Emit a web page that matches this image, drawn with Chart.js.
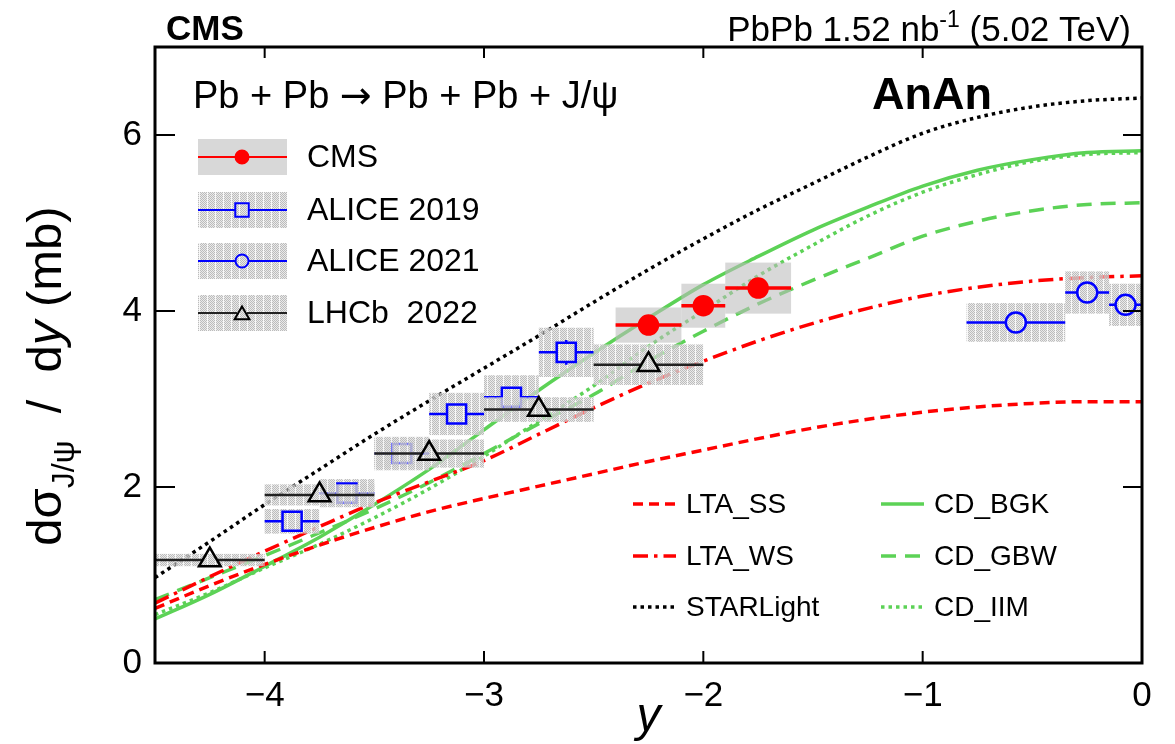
<!DOCTYPE html>
<html>
<head>
<meta charset="utf-8">
<title>Coherent J/psi photoproduction in PbPb UPC</title>
<script src="https://cdn.jsdelivr.net/npm/chart.js@4.4.1/dist/chart.umd.min.js"></script>
<style>
  html, body { margin: 0; padding: 0; background: #ffffff; }
  #box { position: relative; width: 1175px; height: 744px; }
  canvas { display: block; }
</style>
</head>
<body>
<div id="box"><canvas id="chart" width="1175" height="744"></canvas></div>
<script>
// Rapidity grid of the model predictions
const modelRap  = [-4.5, -4.25, -4.0, -3.75, -3.5, -3.25, -3.0, -2.75, -2.5, -2.25, -2.0, -1.75, -1.5, -1.25, -1.0, -0.75, -0.5, -0.25, 0.0];
const ltaSS     = [0.62, 0.88, 1.12, 1.34, 1.54, 1.72, 1.87, 2.01, 2.15, 2.29, 2.42, 2.55, 2.67, 2.77, 2.85, 2.91, 2.95, 2.97, 2.97];
const ltaWS     = [0.68, 0.98, 1.27, 1.55, 1.82, 2.06, 2.30, 2.60, 2.90, 3.18, 3.43, 3.66, 3.86, 4.03, 4.17, 4.27, 4.34, 4.38, 4.40];
const starlight = [0.97, 1.38, 1.80, 2.20, 2.60, 2.98, 3.35, 3.72, 4.10, 4.47, 4.82, 5.15, 5.45, 5.75, 6.02, 6.20, 6.32, 6.39, 6.42];
const cdBGK     = [0.50, 0.78, 1.10, 1.43, 1.80, 2.20, 2.65, 3.10, 3.52, 3.92, 4.30, 4.62, 4.92, 5.18, 5.42, 5.60, 5.72, 5.80, 5.82];
const cdGBW     = [0.72, 0.97, 1.22, 1.48, 1.75, 2.05, 2.38, 2.72, 3.05, 3.43, 3.77, 4.08, 4.35, 4.60, 4.85, 5.02, 5.14, 5.21, 5.23];
const cdIIM     = [0.55, 0.80, 1.08, 1.35, 1.65, 1.98, 2.35, 2.75, 3.15, 3.60, 4.00, 4.40, 4.75, 5.08, 5.35, 5.55, 5.70, 5.78, 5.80];

// CMS
const cmsRap   = [-2.25, -2.0, -1.75];
const cmsLo    = [-2.4, -2.1, -1.9];
const cmsHi    = [-2.1, -1.9, -1.6];
const cmsXsec  = [3.84, 4.06, 4.26];
const cmsStat  = [0.05, 0.05, 0.06];
const cmsSyst  = [0.20, 0.25, 0.29];

// ALICE 2019
const alice19Rap  = [-3.875, -3.625, -3.375, -3.125, -2.875, -2.625];
const alice19Lo   = [-4.0, -3.75, -3.5, -3.25, -3.0, -2.75];
const alice19Hi   = [-3.75, -3.5, -3.25, -3.0, -2.75, -2.5];
const alice19Xsec = [1.61, 1.93, 2.38, 2.83, 3.02, 3.53];
const alice19Stat = [0.03, 0.03, 0.03, 0.04, 0.07, 0.14];
const alice19Syst = [0.14, 0.16, 0.19, 0.24, 0.25, 0.28];

// ALICE 2021
const alice21Rap  = [-0.575, -0.25, -0.075];
const alice21Lo   = [-0.8, -0.35, -0.15];
const alice21Hi   = [-0.35, -0.15, 0.0];
const alice21Xsec = [3.87, 4.21, 4.07];
const alice21Stat = [0.08, 0.08, 0.08];
const alice21Syst = [0.22, 0.24, 0.24];

// LHCb 2022
const lhcbRap  = [-4.25, -3.75, -3.25, -2.75, -2.25];
const lhcbLo   = [-4.5, -4.0, -3.5, -3.0, -2.5];
const lhcbHi   = [-4.0, -3.5, -3.0, -2.5, -2.0];
const lhcbXsec = [1.17, 1.91, 2.38, 2.88, 3.39];
const lhcbStat = [0.03, 0.03, 0.03, 0.04, 0.07];
const lhcbSyst = [0.07, 0.12, 0.16, 0.14, 0.23];

const xTickValues = [-4, -3, -2, -1, 0];
const yTickValues = [0, 2, 4, 6];

const FONT = '"Liberation Sans", Arial, Helvetica, sans-serif';
const RED = '#ff0000', BLUE = '#0000ff', BLACK = '#000000', GREEN = 'rgb(92,210,86)';

let hatchPattern = null;
function getHatch(ctx) {
  if (hatchPattern) return hatchPattern;
  const c = document.createElement('canvas');
  c.width = 8; c.height = 8;
  const g = c.getContext('2d');
  for (let j = 0; j < 8; j++) {
    for (let i = 0; i < 8; i++) {
      if (i === 7) g.fillStyle = 'rgba(242,242,242,0.5)';
      else if ((i + j) % 2 === 0) g.fillStyle = 'rgb(188,188,188)';
      else g.fillStyle = 'rgba(225,225,225,0.7)';
      g.fillRect(i, j, 1, 1);
    }
  }
  hatchPattern = ctx.createPattern(c, 'repeat');
  return hatchPattern;
}

// Measurement tables, keyed by dataset label
const measurements = {
  'CMS':        { rap: cmsRap, lo: cmsLo, hi: cmsHi, val: cmsXsec, stat: cmsStat, syst: cmsSyst, solid: true, color: RED, lw: 3.5, gapX: 0, gapT: 0, gapB: 0 },
  'ALICE 2019': { rap: alice19Rap, lo: alice19Lo, hi: alice19Hi, val: alice19Xsec, stat: alice19Stat, syst: alice19Syst, solid: false, color: BLUE, lw: 2.5, gapX: 9.5, gapT: 9.5, gapB: 9.5 },
  'ALICE 2021': { rap: alice21Rap, lo: alice21Lo, hi: alice21Hi, val: alice21Xsec, stat: alice21Stat, syst: alice21Syst, solid: false, color: BLUE, lw: 2.5, gapX: 10, gapT: 10, gapB: 10 },
  'LHCb  2022': { rap: lhcbRap, lo: lhcbLo, hi: lhcbHi, val: lhcbXsec, stat: lhcbStat, syst: lhcbSyst, solid: false, color: '#222222', lw: 2.5, gapX: 7, gapT: 12, gapB: 6 }
};

function modelSet(label, values, color, dash) {
  return {
    type: 'line', label,
    data: modelRap.map((r, i) => ({ x: r, y: values[i] })),
    borderColor: color, borderWidth: 3.5, borderDash: dash, borderCapStyle: 'butt',
    pointRadius: 0, fill: false, cubicInterpolationMode: 'monotone', order: 10
  };
}

function pointSet(label, rap, vals, style, radius, fillColor, strokeColor, order) {
  return {
    type: 'scatter', label,
    data: rap.map((r, i) => ({ x: r, y: vals[i] })),
    pointStyle: style, pointRadius: radius, pointHoverRadius: radius,
    pointBackgroundColor: fillColor, pointBorderColor: strokeColor,
    borderColor: strokeColor, pointBorderWidth: 2.5, order
  };
}

const datasets = [
  modelSet('LTA_SS', ltaSS, RED, [10, 6]),
  modelSet('LTA_WS', ltaWS, RED, [15, 6, 3.5, 6]),
  modelSet('STARLight', starlight, BLACK, [3.5, 4]),
  modelSet('CD_BGK', cdBGK, GREEN, []),
  modelSet('CD_GBW', cdGBW, GREEN, [15, 9]),
  modelSet('CD_IIM', cdIIM, GREEN, [3.5, 4]),
  pointSet('ALICE 2019', alice19Rap, alice19Xsec, 'rect', 13.5, 'rgba(0,0,0,0)', BLUE, 4),
  pointSet('ALICE 2021', alice21Rap, alice21Xsec, 'circle', 10, 'rgba(0,0,0,0)', BLUE, 3),
  pointSet('LHCb  2022', lhcbRap, lhcbXsec, 'triangle', 12.5, 'rgba(0,0,0,0)', BLACK, 2),
  pointSet('CMS', cmsRap, cmsXsec, 'circle', 9.5, RED, RED, 1)
];

// Systematic boxes and error bars, drawn just before each measurement's markers
const measurementPlugin = {
  id: 'measurementBoxes',
  beforeDatasetDraw(chart, args) {
    const ds = chart.data.datasets[args.index];
    const m = measurements[ds.label];
    if (!m) return;
    const { ctx, chartArea: a, scales: { x, y } } = chart;
    ctx.save();
    ctx.beginPath();
    ctx.rect(a.left, a.top, a.right - a.left, a.bottom - a.top);
    ctx.clip();
    ctx.fillStyle = m.solid ? 'rgba(188,188,188,0.58)' : getHatch(ctx);
    m.val.forEach((v, i) => {
      const x0 = x.getPixelForValue(m.lo[i]), x1 = x.getPixelForValue(m.hi[i]);
      const y0 = y.getPixelForValue(v + m.syst[i]), y1 = y.getPixelForValue(v - m.syst[i]);
      ctx.fillRect(x0, y0, x1 - x0, y1 - y0);
    });
    ctx.strokeStyle = m.color;
    ctx.lineWidth = m.lw;
    ctx.lineCap = 'butt';
    m.val.forEach((v, i) => {
      const cx = x.getPixelForValue(m.rap[i]), cy = y.getPixelForValue(v);
      const x0 = x.getPixelForValue(m.lo[i]), x1 = x.getPixelForValue(m.hi[i]);
      ctx.beginPath();
      ctx.moveTo(x0, cy); ctx.lineTo(cx - m.gapX, cy);
      ctx.moveTo(cx + m.gapX, cy); ctx.lineTo(x1, cy);
      const yt = y.getPixelForValue(v + m.stat[i]), yb = y.getPixelForValue(v - m.stat[i]);
      if (cy - yt > m.gapT + 1) { ctx.moveTo(cx, cy - m.gapT); ctx.lineTo(cx, yt); }
      if (yb - cy > m.gapB + 1) { ctx.moveTo(cx, cy + m.gapB); ctx.lineTo(cx, yb); }
      ctx.stroke();
    });
    ctx.restore();
  }
};

function drawRich(ctx, parts, x, y, align) {
  let total = 0;
  parts.forEach(p => { ctx.font = p.f; p.w = ctx.measureText(p.t).width; total += p.w; });
  let cx = align === 'right' ? x - total : (align === 'center' ? x - total / 2 : x);
  parts.forEach(p => { ctx.font = p.f; ctx.fillText(p.t, cx, y + (p.dy || 0)); cx += p.w; });
}

// Frame, inward ticks, titles and legends
const decorPlugin = {
  id: 'decor',
  afterDraw(chart) {
    const { ctx, chartArea: a, scales: { x, y } } = chart;
    const ds = chart.data.datasets;
    const byLabel = l => ds.find(d => d.label === l);
    ctx.save();

    // ticks
    ctx.strokeStyle = '#000';
    ctx.lineWidth = 2;
    ctx.beginPath();
    xTickValues.forEach(v => {
      const px = x.getPixelForValue(v);
      if (px <= a.left + 2 || px >= a.right - 2) return;
      ctx.moveTo(px, a.bottom); ctx.lineTo(px, a.bottom - 12);
      ctx.moveTo(px, a.top); ctx.lineTo(px, a.top + 11);
    });
    yTickValues.forEach(v => {
      const py = y.getPixelForValue(v);
      if (py >= a.bottom - 2 || py <= a.top + 2) return;
      ctx.moveTo(a.left, py); ctx.lineTo(a.left + 20, py);
      ctx.moveTo(a.right, py); ctx.lineTo(a.right - 19, py);
    });
    ctx.stroke();

    // frame
    ctx.lineWidth = 3;
    ctx.strokeRect(a.left, a.top, a.right - a.left, a.bottom - a.top);

    ctx.fillStyle = '#000';
    ctx.textBaseline = 'alphabetic';

    // header
    ctx.textAlign = 'left';
    ctx.font = `bold 35px ${FONT}`;
    ctx.fillText('CMS', 166, 40);
    drawRich(ctx, [
      { t: 'PbPb 1.52 nb', f: `35px ${FONT}` },
      { t: '-1', f: `23px ${FONT}`, dy: -14 },
      { t: ' (5.02 TeV)', f: `35px ${FONT}` }
    ], 1131, 41, 'right');

    // x axis title
    ctx.textAlign = 'center';
    ctx.font = `italic 48px ${FONT}`;
    ctx.fillText('y', (a.left + a.right) / 2, 731);

    // y axis title (rotated)
    ctx.save();
    ctx.translate(61, 376);
    ctx.rotate(-Math.PI / 2);
    ctx.textAlign = 'left';
    drawRich(ctx, [
      { t: 'd\u03c3', f: `49px ${FONT}` },
      { t: 'J/\u03c8', f: `32px ${FONT}`, dy: 13 },
      { t: '  /  d', f: `49px ${FONT}` },
      { t: 'y', f: `italic 49px ${FONT}` },
      { t: ' (mb)', f: `49px ${FONT}` }
    ], 0, 0, 'center');
    ctx.restore();

    // process and tune labels
    ctx.textAlign = 'left';
    drawRich(ctx, [
      { t: 'Pb + Pb ', f: `38px ${FONT}` },
      { t: '\u2192', f: `38px "DejaVu Sans", ${FONT}`, dy: 0 },
      { t: ' Pb + Pb + J/\u03c8', f: `38px ${FONT}` }
    ], 193, 108, 'left');
    ctx.font = `bold 45px ${FONT}`;
    ctx.fillText('AnAn', 872, 109);

    // measurement legend
    const entries = ['CMS', 'ALICE 2019', 'ALICE 2021', 'LHCb  2022'];
    const rowY = [157, 210, 261, 313];
    entries.forEach((lab, k) => {
      const d = byLabel(lab);
      const m = measurements[lab];
      const cy = rowY[k];
      ctx.fillStyle = m.solid ? 'rgba(188,188,188,0.58)' : getHatch(ctx);
      ctx.fillRect(198, cy - 18, 89, 36);
      ctx.strokeStyle = m.color;
      ctx.lineWidth = 2;
      const gap = lab === 'CMS' ? 0 : (lab === 'LHCb  2022' ? 5 : 7);
      ctx.beginPath();
      ctx.moveTo(198, cy); ctx.lineTo(242 - gap, cy);
      ctx.moveTo(242 + gap, cy); ctx.lineTo(287, cy);
      ctx.stroke();
      ctx.fillStyle = d.pointBackgroundColor;
      ctx.strokeStyle = d.pointBorderColor;
      Chart.helpers.drawPoint(ctx, {
        pointStyle: d.pointStyle,
        radius: lab === 'CMS' ? 6.5 : (lab === 'ALICE 2019' ? 9.5 : (lab === 'LHCb  2022' ? 8.5 : 6.5)),
        borderWidth: 2, rotation: 0
      }, 242, lab === 'LHCb  2022' ? cy + 2 : cy);
      ctx.fillStyle = '#000';
      ctx.font = `32px ${FONT}`;
      ctx.textBaseline = 'middle';
      ctx.fillText(lab, 307, cy + 1);
      ctx.textBaseline = 'alphabetic';
    });

    // model legend
    const models = [
      ['LTA_SS', 633, 504], ['LTA_WS', 633, 556], ['STARLight', 633, 607],
      ['CD_BGK', 881, 504], ['CD_GBW', 881, 556], ['CD_IIM', 881, 607]
    ];
    models.forEach(([lab, lx, ly]) => {
      const d = byLabel(lab);
      ctx.strokeStyle = d.borderColor;
      ctx.lineWidth = 3.5;
      ctx.setLineDash(d.borderDash || []);
      ctx.beginPath();
      ctx.moveTo(lx, ly); ctx.lineTo(lx + 43, ly);
      ctx.stroke();
      ctx.setLineDash([]);
      ctx.fillStyle = '#000';
      ctx.font = `28px ${FONT}`;
      ctx.textBaseline = 'middle';
      ctx.fillText(lab, lx + 53, ly + 1);
    });
    ctx.restore();
  }
};

const fmt = v => (v < 0 ? '\u2212' + Math.abs(v) : String(v));

new Chart(document.getElementById('chart'), {
  data: { datasets },
  plugins: [measurementPlugin, decorPlugin],
  options: {
    responsive: false,
    animation: false,
    devicePixelRatio: 1,
    events: [],
    layout: { padding: { left: 0, right: 33, top: 47, bottom: 0 } },
    plugins: { legend: { display: false }, tooltip: { enabled: false } },
    scales: {
      x: {
        type: 'linear', min: -4.5, max: 0,
        afterFit: s => { s.height = 81; },
        grid: { display: false, drawTicks: false },
        border: { display: false },
        ticks: {
          stepSize: 1, includeBounds: false, padding: 12, maxRotation: 0,
          color: '#000', font: { family: FONT, size: 35 },
          callback: v => fmt(v)
        }
      },
      y: {
        type: 'linear', min: 0, max: 7,
        afterFit: s => { s.width = 155; },
        grid: { display: false, drawTicks: false },
        border: { display: false },
        ticks: {
          stepSize: 2, includeBounds: false, padding: 13,
          color: '#000', font: { family: FONT, size: 35 },
          callback: v => fmt(v)
        }
      }
    }
  }
});
</script>
</body>
</html>
